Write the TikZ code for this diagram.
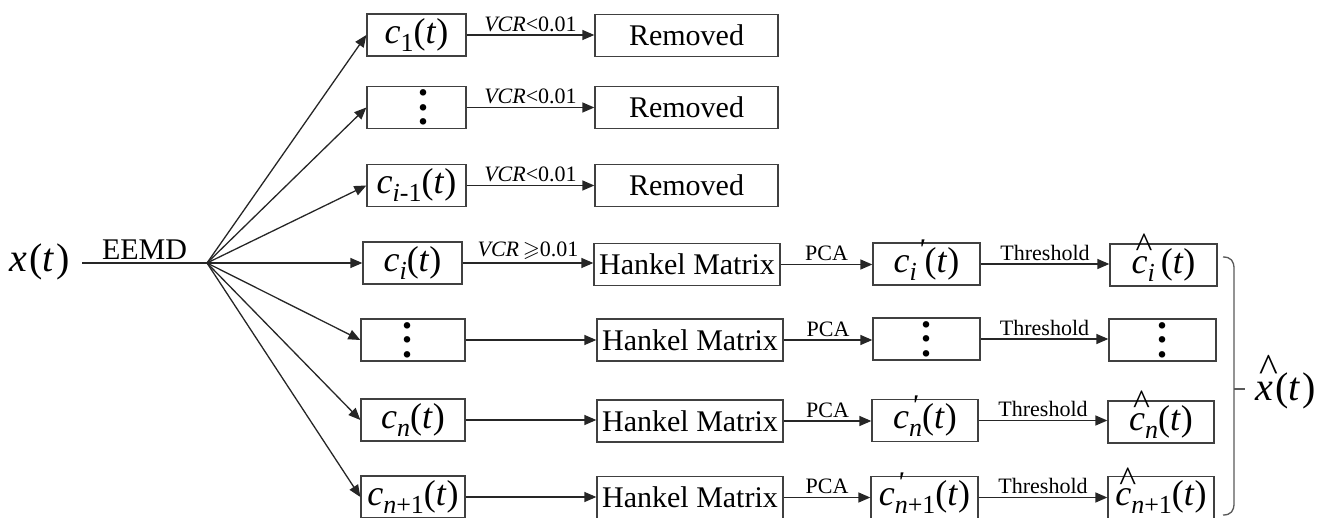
\documentclass[tikz,border=0pt]{standalone}
\usepackage{fontspec}
\setmainfont{Liberation Serif}
\usepackage{amssymb}
\usetikzlibrary{arrows.meta}

\newcommand\MI[1]{\textit{#1}}
\newcommand\SB[1]{\raisebox{-8pt}{\fontsize{26}{26}\selectfont #1}}
\newcommand\HT[2][16pt]{\makebox[0pt][l]{\smash{\raisebox{#1}{\hspace{4pt}\textasciicircum}}}#2}
\newcommand\PRs{\smash{\raisebox{13pt}{\fontsize{30}{30}\selectfont\textit{\textquotesingle}}}}
\newcommand\VD{\vbox{\baselineskip=14.5pt\lineskiplimit=0pt\hbox{\bfseries .}\hbox{\bfseries .}\hbox{\bfseries .}}}
\newcommand\UP[1]{\raisebox{3pt}{#1}}

\tikzset{
  box/.style={draw=black!75, line width=1.3pt, minimum height=42pt, inner sep=0pt, fill=white},
  mtxt/.style={font=\fontsize{36}{36}\selectfont},
  btxt/.style={font=\fontsize{40}{40}\selectfont},
  ttxt/.style={font=\fontsize{30}{30}\selectfont},
  dtxt/.style={font=\fontsize{40}{40}\selectfont},
  lab/.style={font=\fontsize{22}{22}\selectfont, inner sep=2pt, above=1pt},
  arr/.style={-{Triangle[length=12pt,width=10pt]}, line width=1.3pt, draw=black!85},
  plain/.style={line width=1.3pt, draw=black!85},
}

\begin{document}
\begin{tikzpicture}[x=1pt,y=-1pt]
\useasboundingbox (0,0) rectangle (1330,518);

% input
\node[btxt, inner sep=0pt] (x) at (40,262) {\MI{x}\kern2pt(\MI{t}\kern2pt)};
\coordinate (xs) at (82,263);
\coordinate (F) at (207,263);
\draw[plain] (xs) -- node[ttxt, above, inner sep=3pt]{EEMD} (F);

% column A
\node[box, mtxt, minimum width=99pt] (c1) at (416.5,35) {\MI{c}\SB{1}(\MI{t})};
\node[box, dtxt, minimum width=99pt] (d1) at (416.5,107.5) {\kern13pt\VD};
\node[box, mtxt, minimum width=99pt] (ci1) at (416.5,185.5) {\MI{c}\SB{\MI{i}-1}(\MI{t})};
\node[box, mtxt, minimum width=99pt] (ci) at (412.5,263) {\MI{c}\SB{\MI{i}}(\MI{t})};
\node[box, dtxt, minimum width=104pt] (d2) at (413,340) {\VD\kern12pt};
\node[box, mtxt, minimum width=104pt] (cn) at (413,420) {\MI{c}\SB{\MI{n}}(\MI{t})};
\node[box, mtxt, minimum width=104pt] (cn1) at (413,497) {\UP{\MI{c}\SB{\MI{n}+1}(\MI{t})}};

% column B
\node[box, ttxt, minimum width=183pt] (r1) at (686.5,35.5) {Removed};
\node[box, ttxt, minimum width=183pt] (r2) at (686.5,107.5) {Removed};
\node[box, ttxt, minimum width=183pt] (r3) at (686.5,185.5) {Removed};
\node[box, ttxt, minimum width=186pt] (h1) at (687,264.5) {Hankel Matrix};
\node[box, ttxt, minimum width=186pt] (h2) at (690,340) {Hankel Matrix};
\node[box, ttxt, minimum width=186pt] (h3) at (690,421) {Hankel Matrix};
\node[box, ttxt, minimum width=186pt] (h4) at (690,497.5) {Hankel Matrix};

% column C
\node[box, mtxt, minimum width=107pt] (p1) at (926.5,264) {\MI{c}\SB{\MI{i}}\kern1pt\PRs(\MI{t})};
\node[box, dtxt, minimum width=107pt] (p2) at (926.5,339) {\VD};
\node[box, mtxt, minimum width=106pt] (p3) at (925,420.5) {\MI{c}\makebox[0pt][l]{\kern2pt\PRs}\SB{\MI{n}}(\MI{t})};
\node[box, mtxt, minimum width=107pt] (p4) at (924.5,497.5) {\UP{\MI{c}\makebox[0pt][l]{\kern2pt\PRs}\SB{\MI{n}+1}(\MI{t})}};

% column D
\node[box, mtxt, minimum width=107pt] (q1) at (1163.5,265) {\HT{\MI{c}}\SB{\MI{i}}\,(\MI{t})};
\node[box, dtxt, minimum width=107pt] (q2) at (1162.5,340) {\VD};
\node[box, mtxt, minimum width=106pt] (q3) at (1161,422) {\HT{\MI{c}}\SB{\MI{n}}(\MI{t})};
\node[box, mtxt, minimum width=106pt] (q4) at (1161,497.5) {\UP{\HT[14pt]{\MI{c}}\SB{\MI{n}+1}(\MI{t})}};

% output
\node[btxt, inner sep=0pt] (xh) at (1286,391) {\HT[19pt]{\MI{x}}\kern2pt(\MI{t}\kern2pt)};

% fan
\foreach \n in {c1,d1,ci1,ci,d2,cn,cn1} \draw[arr] (F) -- (\n.west);

% row arrows
\draw[arr] (c1.east) -- node[lab]{\MI{VCR}<0.01} (c1.east -| r1.west);
\draw[arr] (d1.east) -- node[lab]{\MI{VCR}<0.01} (d1.east -| r2.west);
\draw[arr] (ci1.east) -- node[lab]{\MI{VCR}<0.01} (ci1.east -| r3.west);
\draw[arr] (ci.east) -- node[lab]{\MI{VCR}\,$\geqslant$0.01} (ci.east -| h1.west);
\draw[arr] (d2.east) -- (d2.east -| h2.west);
\draw[arr] (cn.east) -- (cn.east -| h3.west);
\draw[arr] (cn1.east) -- (cn1.east -| h4.west);

\draw[arr] (h1.east) -- node[lab]{PCA} (h1.east -| p1.west);
\draw[arr] (h2.east) -- node[lab]{PCA} (h2.east -| p2.west);
\draw[arr] (h3.east) -- node[lab]{PCA} (h3.east -| p3.west);
\draw[arr] (h4.east) -- node[lab]{PCA} (h4.east -| p4.west);

\draw[arr] (p1.east) -- node[lab]{Threshold} (p1.east -| q1.west);
\draw[arr] (p2.east) -- node[lab]{Threshold} (p2.east -| q2.west);
\draw[arr] (p3.east) -- node[lab]{Threshold} (p3.east -| q3.west);
\draw[arr] (p4.east) -- node[lab]{Threshold} (p4.east -| q4.west);

% brace
\coordinate (bt) at (1223,257);
\coordinate (bb) at (1223,515);
\coordinate (bm) at (1234,389);
\coordinate (bn) at (1245,389);
\draw[line width=1.3pt, draw=black!65] (bt) .. controls (1231,257) and (1234,261) .. (1234,269) -- (1234,503) .. controls (1234,511) and (1231,515) .. (bb);
\draw[line width=1.3pt, draw=black!65] (bm) -- (bn);
\end{tikzpicture}
\end{document}
